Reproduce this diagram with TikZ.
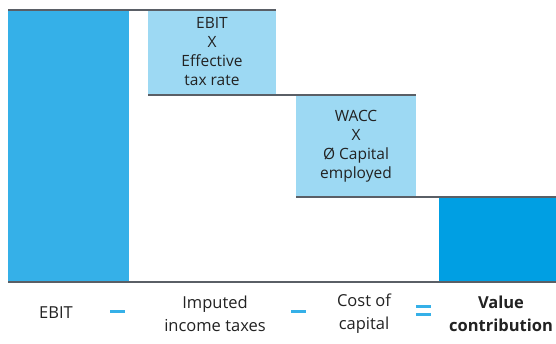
\documentclass[tikz,border=0pt]{standalone}
\usepackage{fontspec}
\setmainfont{Open Sans}
\definecolor{barblue}{HTML}{35B0E8}
\definecolor{lightblue}{HTML}{9DD9F3}
\definecolor{deepblue}{HTML}{009FE3}
\definecolor{linegray}{HTML}{5A5F66}
\definecolor{txt}{HTML}{222222}
\tikzset{
  rule/.style={draw=linegray, line width=1.1pt},
  boxtext/.style={align=center, text=txt, font=\fontsize{15.5}{19}\selectfont, inner sep=0pt},
  label/.style={align=center, text=txt, font=\fontsize{16.5}{23}\selectfont, inner sep=0pt},
  op/.style={fill=barblue, draw=none}
}
\begin{document}
\begin{tikzpicture}[x=1pt,y=-1pt]
\useasboundingbox (0,0) rectangle (556,344);
% bars
\fill[barblue] (8,10) rectangle (129,282);
\fill[lightblue] (148,10) rectangle (276,95);
\fill[lightblue] (296,95) rectangle (416,197);
\fill[deepblue] (439,197) rectangle (556,282);
% coordinates for rules
\coordinate (t1) at (8,10);
\coordinate (t2) at (276,10);
\coordinate (m1) at (148,95);
\coordinate (m2) at (416,95);
\coordinate (n1) at (296,197);
\coordinate (n2) at (556,197);
\coordinate (b1) at (8,282);
\coordinate (b2) at (556,282);
\draw[rule] (t1) -- (t2);
\draw[rule] (m1) -- (m2);
\draw[rule] (n1) -- (n2);
\draw[rule] (b1) -- (b2);
% box texts
\node[boxtext] (tax) at (212,51.5) {EBIT\\X\\Effective\\tax rate};
\node[boxtext] (wacc) at (356,146.5) {WACC\\X\\Ø Capital\\employed};
% bottom labels
\node[label] (ebit) at (56,313) {EBIT};
\node[label] (imp) at (215,313.5) {Imputed\\income taxes};
\node[label] (coc) at (364,313.5) {Cost of\\capital};
\node[label, font=\fontsize{16.5}{23}\selectfont\bfseries] (vc) at (501,313.5) {Value\\contribution};
% operators
\fill[op] (110,309.5) rectangle (125,312.5);
\fill[op] (291,309.5) rectangle (306,312.5);
\fill[op] (416,305) rectangle (431,308);
\fill[op] (416,313) rectangle (431,316);
\end{tikzpicture}
\end{document}
